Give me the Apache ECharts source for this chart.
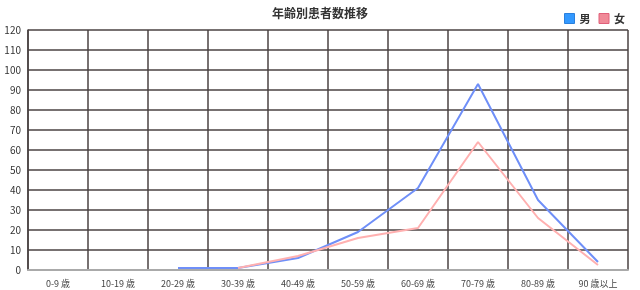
<!DOCTYPE html>
<html><head><meta charset="utf-8">
<script src="https://cdn.jsdelivr.net/npm/echarts@6/dist/echarts.min.js"></script>
<style>html,body{margin:0;padding:0;background:#fff}#c{width:640px;height:290px}</style>
</head><body><div id="c"></div>
<script>
const categories = ['0-9 歳','10-19 歳','20-29 歳','30-39 歳','40-49 歳','50-59 歳','60-69 歳','70-79 歳','80-89 歳','90 歳以上'];
const maleValues = [null, null, 1, 1, 6, 19, 41, 93, 35, 4];
const femaleValues = [null, null, null, 1, 7, 16, 21, 64, 26, 2.5];
const yTicks = [0,10,20,30,40,50,60,70,80,90,100,110,120];
const fontFam = '"Noto Sans CJK JP","Noto Sans",sans-serif';
const chart = echarts.init(document.getElementById('c'));
chart.setOption({
  animation: false,
  title: { text: '年齢別患者数推移', left: 'center', top: 2,
    textStyle: { fontSize: 12, fontWeight: 'bold', color: '#333', fontFamily: fontFam } },
  legend: { right: 10, top: 8, itemWidth: 10, itemHeight: 10, itemGap: 8,
    textStyle: { fontSize: 11, fontWeight: 'bold', color: '#333', fontFamily: fontFam },
    data: [
      { name: '男', icon: 'rect', itemStyle: { color: '#3399ff', borderColor: '#2a80dd', borderWidth: 1 } },
      { name: '女', icon: 'rect', itemStyle: { color: '#f08a98', borderColor: '#e0607a', borderWidth: 1 } }
    ] },
  grid: { left: 28, right: 12, top: 30, bottom: 20 },
  xAxis: { type: 'category', data: categories, boundaryGap: true,
    axisLine: { lineStyle: { color: '#aaa', width: 2 } },
    axisTick: { show: false },
    splitLine: { show: true, interval: 0, lineStyle: { color: '#4a4242', width: 1.5 } },
    axisLabel: { interval: 0, fontSize: 9, color: '#444', fontFamily: fontFam, margin: 9 } },
  yAxis: { type: 'value', min: yTicks[0], max: yTicks[yTicks.length-1], interval: 10,
    axisLine: { show: true, lineStyle: { color: '#4a4242', width: 1.5 } },
    axisTick: { show: false },
    splitLine: { lineStyle: { color: '#4a4242', width: 1.5 } },
    axisLabel: { fontSize: 10, color: '#333', fontFamily: fontFam, margin: 7 } },
  series: [
    { name: '男', type: 'line', data: maleValues, symbol: 'none', connectNulls: false,
      itemStyle: { color: '#3399ff' },
      lineStyle: { color: '#6f8ff8', width: 2 } },
    { name: '女', type: 'line', data: femaleValues, symbol: 'none',
      itemStyle: { color: '#f08a98' },
      lineStyle: { color: '#ffb0b0', width: 2 } }
  ]
});
</script></body></html>
